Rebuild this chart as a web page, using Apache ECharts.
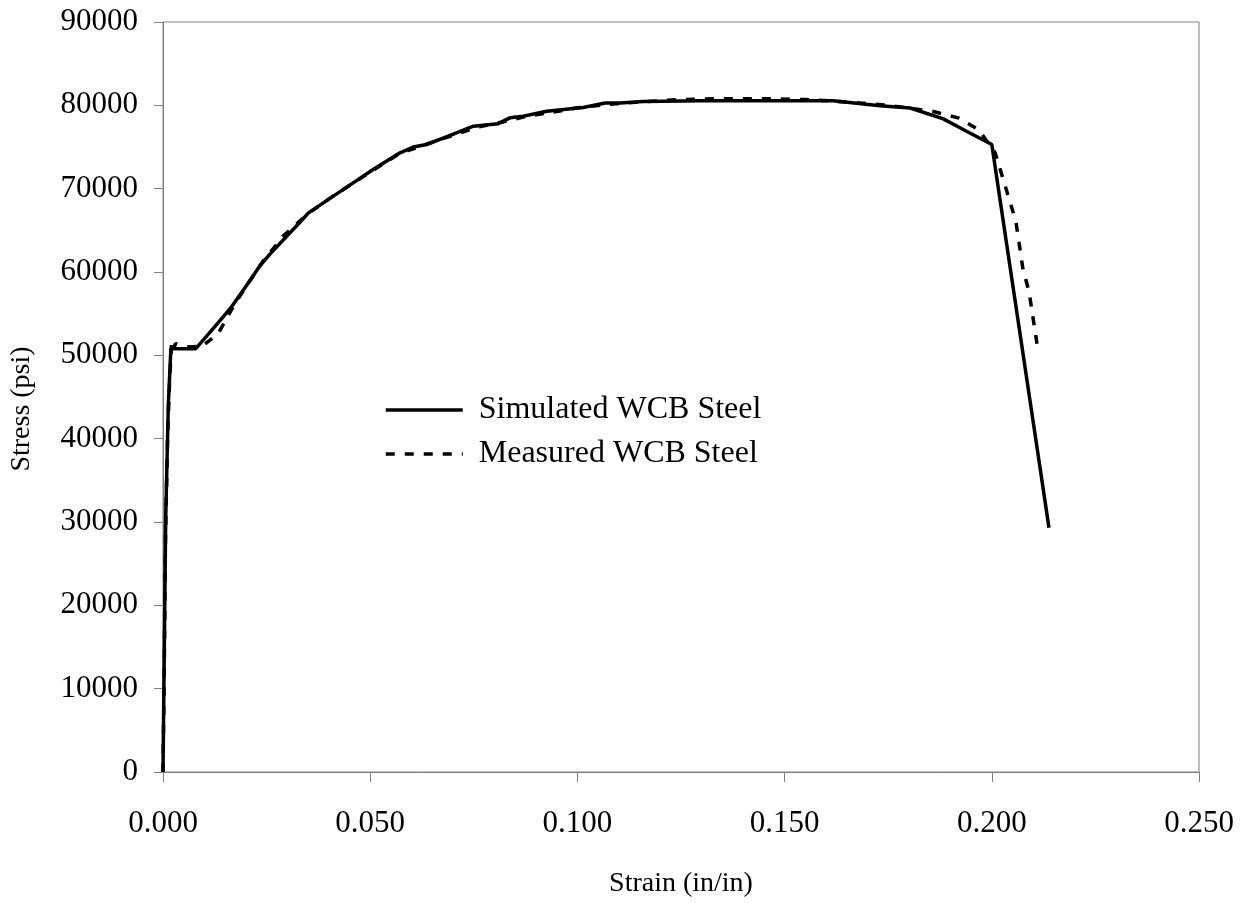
<!DOCTYPE html>
<html>
<head>
<meta charset="utf-8">
<title>Stress-Strain WCB Steel</title>
<script src="https://cdn.jsdelivr.net/npm/echarts@6/dist/echarts.min.js"></script>
<style>
  html, body { margin: 0; padding: 0; background: #fff; }
  #chart { width: 1251px; height: 903px; }
</style>
</head>
<body>
<div id="chart"></div>
<script>
// Strain (in/in), stress (psi) pairs
const simulatedStrain = [0, 0.00065, 0.00128, 0.0019, 0.0079, 0.0121, 0.0162, 0.0202, 0.0234, 0.0258,
  0.0331, 0.0351, 0.0411, 0.0459, 0.0507, 0.0572, 0.0604, 0.0636, 0.0693, 0.0749,
  0.0809, 0.0837, 0.0869, 0.0926, 0.1014, 0.1067, 0.1103, 0.1159, 0.1296, 0.1617,
  0.1730, 0.1803, 0.1883, 0.1939, 0.2000, 0.2138];
const simulatedStress = [0, 30500, 44000, 50800, 50800, 53200, 55600, 58400, 60750, 62150,
  66000, 67100, 69100, 70700, 72300, 74300, 75000, 75300, 76400, 77500,
  77800, 78500, 78700, 79300, 79750, 80280, 80280, 80470, 80550, 80550,
  79960, 79680, 78370, 76890, 75300, 29300];

const measuredStrain = [0, 0.0003, 0.0006, 0.0011, 0.0016, 0.0021, 0.0026, 0.0030, 0.0060, 0.0095,
  0.0133, 0.0170, 0.0205, 0.0240, 0.0290, 0.0350, 0.0410, 0.0460, 0.0510, 0.0570,
  0.0640, 0.0700, 0.0760, 0.0820, 0.0870, 0.0930, 0.1000, 0.1070, 0.1150, 0.1250,
  0.1350, 0.1450, 0.1550, 0.1650, 0.1750, 0.1855, 0.1919, 0.1968, 0.2008, 0.2024,
  0.2058, 0.2075, 0.2090, 0.2109];
const measuredStress = [0, 12000, 28000, 40000, 47000, 51800, 50900, 51400, 51000, 51100,
  52600, 55900, 58600, 61200, 64300, 67000, 69100, 70700, 72300, 74200,
  75400, 76400, 77400, 78000, 78600, 79100, 79700, 80100, 80400, 80700,
  80800, 80800, 80700, 80400, 80000, 79300, 78500, 77100, 74300, 71700,
  66100, 60400, 57600, 51400];

const xTicks = ['0.000', '0.050', '0.100', '0.150', '0.200', '0.250'];
const seriesNames = ['Simulated WCB Steel', 'Measured WCB Steel'];

const zip = (xs, ys) => xs.map((x, i) => [x, ys[i]]);
const serif = '"Liberation Serif", "Times New Roman", serif';
const frame = '#808080';

const chart = echarts.init(document.getElementById('chart'), null, { renderer: 'canvas' });
chart.setOption({
  backgroundColor: '#ffffff',
  animation: false,
  grid: {
    left: 163, right: 52, top: 22, bottom: 128,
    show: true, borderColor: frame, borderWidth: 1, backgroundColor: 'transparent'
  },
  legend: {
    orient: 'vertical',
    left: 384, top: 394,
    padding: 0,
    itemWidth: 77, itemHeight: 14, itemGap: 12,
    data: seriesNames,
    itemStyle: { opacity: 0 },
    lineStyle: { width: 3.5 },
    textStyle: { fontFamily: serif, fontSize: 32, color: '#000', padding: [0, 0, 0, 11] }
  },
  xAxis: {
    type: 'value',
    min: 0, max: 0.25, interval: 0.05,
    name: 'Strain (in/in)',
    nameLocation: 'middle', nameGap: 98,
    nameTextStyle: { fontFamily: serif, fontSize: 28, color: '#000' },
    axisLine: { show: true, lineStyle: { color: frame, width: 1 } },
    axisTick: { show: true, inside: false, length: 10, lineStyle: { color: frame } },
    axisLabel: {
      fontFamily: serif, fontSize: 31, color: '#000', margin: 36,
      formatter: (v) => xTicks[Math.round(v / 0.05)]
    },
    splitLine: { show: false }
  },
  yAxis: {
    type: 'value',
    min: 0, max: 90000, interval: 10000,
    name: 'Stress (psi)',
    nameLocation: 'middle', nameGap: 127, nameRotate: 90,
    nameTextStyle: { fontFamily: serif, fontSize: 28, color: '#000', padding: [0, 24, 0, 0] },
    axisLine: { show: true, lineStyle: { color: frame, width: 1 } },
    axisTick: { show: true, inside: false, length: 9, lineStyle: { color: frame } },
    axisLabel: {
      fontFamily: serif, fontSize: 31, color: '#000', margin: 25,
      formatter: (v) => String(v)
    },
    splitLine: { show: false }
  },
  series: [
    {
      name: seriesNames[0],
      type: 'line',
      data: zip(simulatedStrain, simulatedStress),
      showSymbol: false, symbol: 'none',
      lineStyle: { color: '#000', width: 3.5, type: 'solid' },
      itemStyle: { color: '#000' },
      z: 3
    },
    {
      name: seriesNames[1],
      type: 'line',
      data: zip(measuredStrain, measuredStress),
      showSymbol: false, symbol: 'none',
      lineStyle: { color: '#000', width: 3.5, type: [9, 10] },
      itemStyle: { color: '#000' },
      z: 2
    }
  ]
});
</script>
</body>
</html>
